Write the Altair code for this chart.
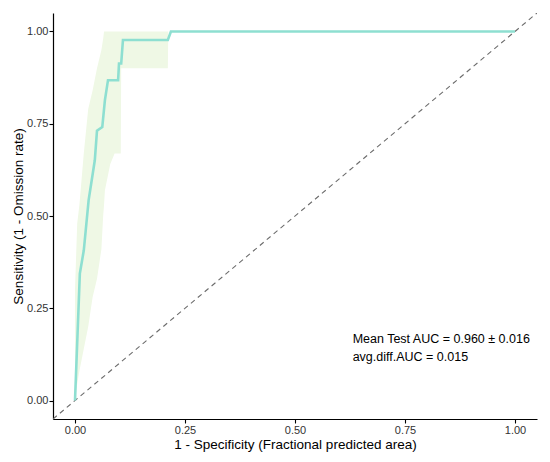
import altair as alt
import pandas as pd

# ROC curve (mean)
roc_x = [0.0, 0.011, 0.020, 0.031, 0.038, 0.045, 0.050, 0.062, 0.068, 0.075, 0.098, 0.100, 0.105, 0.109, 0.211, 0.218, 1.0]
roc_y = [0.0, 0.344, 0.407, 0.543, 0.597, 0.651, 0.731, 0.741, 0.814, 0.868, 0.868, 0.913, 0.913, 0.977, 0.977, 1.0, 1.0]

# confidence ribbon
rib_x  = [0.0, 0.005, 0.010, 0.020, 0.030, 0.040, 0.050, 0.060, 0.064, 0.066, 0.068, 0.080, 0.090, 0.104, 0.105, 0.211, 0.212, 1.0]
rib_lo = [0.0, 0.045, 0.080, 0.140, 0.200, 0.280, 0.330, 0.410, 0.500, 0.530, 0.570, 0.640, 0.669, 0.669, 0.900, 0.900, 1.0, 1.0]
rib_hi = [0.30, 0.48, 0.53, 0.67, 0.79, 0.84, 0.90, 0.95, 0.98, 1.0, 1.0, 1.0, 1.0, 1.0, 1.0, 1.0, 1.0, 1.0]

diag = [-0.05, 1.05]
ticks = [0.0, 0.25, 0.5, 0.75, 1.0]
labels = ["Mean Test AUC = 0.960 \u00b1 0.016", "avg.diff.AUC = 0.015"]
label_x = [0.631, 0.631]
label_y = [0.168, 0.117]

FONT = "Liberation Sans"

xs = alt.Scale(domain=[-0.05, 1.05], nice=False, zero=False)
ys = alt.Scale(domain=[-0.05, 1.05], nice=False, zero=False)

xaxis = alt.Axis(values=ticks, format=".2f", title="1 - Specificity (Fractional predicted area)")
yaxis = alt.Axis(values=ticks, format=".2f", title="Sensitivity (1 - Omission rate)")

roc_df = pd.DataFrame({"x": roc_x, "y": roc_y})
rib_df = pd.DataFrame({"x": rib_x, "lo": rib_lo, "hi": rib_hi})
diag_df = pd.DataFrame({"x": diag, "y": diag})
lab_df = pd.DataFrame({"x": label_x, "y": label_y, "t": labels})

ribbon = alt.Chart(rib_df).mark_area(color="#EFF8E5", opacity=1, interpolate="linear").encode(
    x=alt.X("x:Q", scale=xs, axis=xaxis),
    y=alt.Y("lo:Q", scale=ys, axis=yaxis),
    y2="hi:Q",
)

dline = alt.Chart(diag_df).mark_line(color="#6b6b6b", strokeDash=[5, 4], strokeWidth=1.1, clip=True).encode(
    x=alt.X("x:Q", scale=xs),
    y=alt.Y("y:Q", scale=ys),
)

curve = alt.Chart(roc_df).mark_line(color="#8EDFD1", strokeWidth=2.6).encode(
    x=alt.X("x:Q", scale=xs),
    y=alt.Y("y:Q", scale=ys),
    order=alt.Order("x:Q"),
)

text = alt.Chart(lab_df).mark_text(align="left", baseline="middle", font=FONT, fontSize=12.5, color="black").encode(
    x=alt.X("x:Q", scale=xs),
    y=alt.Y("y:Q", scale=ys),
    text="t:N",
)

chart = alt.layer(ribbon, dline, curve, text).properties(
    width=484, height=406,
    autosize=alt.AutoSizeParams(type="none"),
    padding={"left": 45, "top": 5, "right": 5, "bottom": 35},
).configure_view(stroke=None).configure_axis(
    grid=False,
    domainColor="black",
    domainWidth=1.2,
    tickColor="black",
    tickWidth=1.1,
    tickSize=4,
    labelFont=FONT,
    labelFontSize=11,
    labelColor="#333333",
    labelPadding=1,
    titleFont=FONT,
    titleFontSize=13.5,
    titleFontWeight="normal",
    titleColor="black",
).configure_axisY(titlePadding=1).configure_axisX(titlePadding=2)

chart.save("out.html", embed_options={"renderer": "svg", "actions": False})
